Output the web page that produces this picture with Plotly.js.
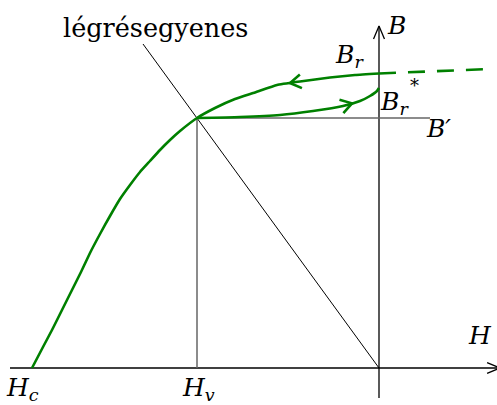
<!DOCTYPE html>
<html>
<head>
<meta charset="utf-8">
<script src="https://cdn.plot.ly/plotly-3.0.1.min.js"></script>
<style>
  html, body { margin: 0; padding: 0; background: #fff; }
  #plot { width: 497px; height: 405px; }
</style>
</head>
<body>
<div id="plot"></div>
<script>
// Demagnetisation curve of a permanent magnet with an air-gap line (H-B plane)

// Main demagnetisation branch, from Hc up to Br
const H_UP = [-347, -336, -327, -317, -307, -298, -289, -279, -269, -259, -249, -239, -229,
              -219, -209, -199, -182, -164, -144, -124, -102, -79, -49, -24, 0];
const B_UP = [0, 21, 38, 58, 78, 96, 115, 134, 152, 169, 183, 196, 207,
              218, 228, 237, 250, 260, 269, 275.5, 283, 286.5, 290.5, 293, 294.5];

// Recoil line from the working point back to Br*
const H_REC = [-182, -139, -99, -66, -36, -19, -9, -2, 0];
const B_REC = [250, 251, 253, 257, 262, 267, 272, 277, 280];

// Continuation of the remanence level into positive H (dashed)
const H_EXT = [0, 110];
const B_EXT = [294.5, 299];

// Air-gap line (légrésegyenes) through the origin
const H_AIR = [-236, 0];
const B_AIR = [324, 0];

// Characteristic values
const Hc = -347;
const Hv = -182;
const Bprime = 250;
const Br = 294.5;
const BrStar = 280;

// Axis extents
const H_AXIS = [-369, 121];
const B_AXIS = [-30, 342];

const GREEN = '#008000';

function interp(xs, ys, x) {
  for (let i = 0; i < xs.length - 1; i++) {
    if (x >= xs[i] && x <= xs[i + 1]) {
      const t = (x - xs[i]) / (xs[i + 1] - xs[i]);
      return ys[i] + t * (ys[i + 1] - ys[i]);
    }
  }
  return ys[ys.length - 1];
}

// Open chevron arrow head: tip point, travel direction, arm length, half angle
function chevron(tx, ty, dx, dy, len, half) {
  const n = Math.hypot(dx, dy); dx /= n; dy /= n;
  const arm = (s) => {
    const c = Math.cos(s * half), si = Math.sin(s * half);
    const rx = dx * c - dy * si, ry = dx * si + dy * c;
    return [tx - len * rx, ty - len * ry];
  };
  const a = arm(1), b = arm(-1);
  return { x: [a[0], tx, b[0]], y: [a[1], ty, b[1]] };
}

function curveArrow(xs, ys, h, sign) {
  const y0 = interp(xs, ys, h);
  const y1 = interp(xs, ys, h + sign * 4);
  return chevron(h, y0, sign * 4, y1 - y0, 13, 32 * Math.PI / 180);
}

const upArrow = curveArrow(H_UP, B_UP, -89, -1);
const recArrow = curveArrow(H_REC, B_REC, -27, 1);
const bAxisArrow = chevron(0, B_AXIS[1], 0, 1, 14, 23 * Math.PI / 180);
const hAxisArrow = chevron(H_AXIS[1], 0, 1, 0, 14, 23 * Math.PI / 180);

const line = (x, y, color, width, extra) => Object.assign({
  x: x, y: y, type: 'scatter', mode: 'lines', hoverinfo: 'skip',
  line: { color: color, width: width }
}, extra || {});

const traces = [
  line(H_AXIS, [0, 0], '#000', 1.3),
  line([0, 0], B_AXIS, '#000', 1.3),
  line(hAxisArrow.x, hAxisArrow.y, '#000', 1.3),
  line(bAxisArrow.x, bAxisArrow.y, '#000', 1.3),
  line(H_AIR, B_AIR, '#000', 1),
  line([Hv, Hv], [0, Bprime], '#666', 1.5),
  line([Hv, 51], [Bprime, Bprime], '#666', 1.5),
  line(H_UP, B_UP, GREEN, 2.6, { line: { color: GREEN, width: 2.6, shape: 'spline', smoothing: 0.4 } }),
  line(H_REC, B_REC, GREEN, 2.6, { line: { color: GREEN, width: 2.6, shape: 'spline', smoothing: 0.5 } }),
  line(H_EXT, B_EXT, GREEN, 2.6, { line: { color: GREEN, width: 2.6, dash: '17px,12px' } }),
  line(upArrow.x, upArrow.y, GREEN, 2.6),
  line(recArrow.x, recArrow.y, GREEN, 2.6)
];

const label = (text, x, y, size, xanchor) => ({
  text: text, x: x, y: y, xref: 'x', yref: 'y', showarrow: false,
  xanchor: xanchor || 'left', yanchor: 'middle',
  font: { family: 'DejaVu Serif', size: size, color: '#000' }
});

const annotations = [
  label('légrésegyenes', -224, 340, 25.5, 'center'),
  label('<i>B</i>', 6, 343, 25),
  label('<i>B<sub>r</sub></i>', -46, 312, 25),
  label('<i>B<sub>r</sub></i>', -1, 265, 25),
  label('*', 29, 283, 18),
  label('<i>B′</i>', 45, 240, 25),
  label('<i>H</i>', 87, 33, 25),
  label('<i>H<sub>c</sub></i>', Hc - 28, -21, 25),
  label('<i>H<sub>v</sub></i>', Hv - 17, -21, 25)
];

const layout = {
  width: 497, height: 405,
  margin: { l: 0, r: 0, t: 0, b: 0 },
  paper_bgcolor: '#fff', plot_bgcolor: '#fff',
  font: { family: 'DejaVu Serif', color: '#000' },
  showlegend: false,
  xaxis: { range: [-379, 118], visible: false, fixedrange: true },
  yaxis: { range: [-37, 368], visible: false, fixedrange: true },
  annotations: annotations
};

Plotly.newPlot('plot', traces, layout, { staticPlot: true, displayModeBar: false });
</script>
</body>
</html>
